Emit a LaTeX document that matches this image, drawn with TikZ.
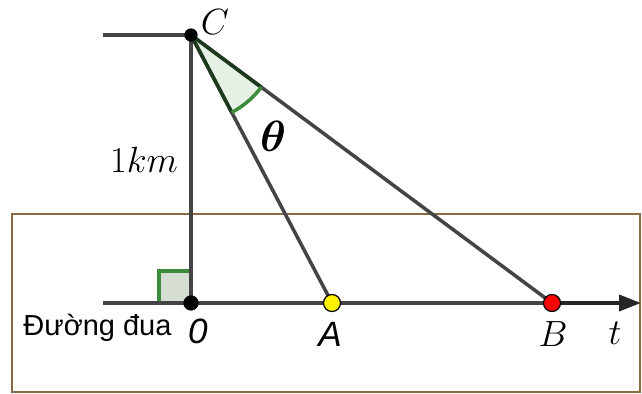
\documentclass[tikz,border=0pt]{standalone}
\usepackage{amsmath}
\usepackage{bm}
\usepackage{fontspec}
\newfontfamily\vnsans{Liberation Sans}
\usetikzlibrary{arrows.meta,positioning}

\definecolor{lineGrey}{HTML}{444444}
\definecolor{trackBrown}{HTML}{8B6A45}
\definecolor{angGreen}{HTML}{3C8C3C}
\definecolor{angDark}{HTML}{1E3A1E}
\definecolor{angFill}{HTML}{E4F1E4}
\definecolor{rightFill}{HTML}{D6DDD2}

\tikzset{
    seg/.style={lineGrey, line width=2pt},
    lbl/.style={font=\fontsize{21}{25}\selectfont, inner sep=1pt},
    dotpt/.style={circle, draw=black, line width=0.7pt, minimum size=0.34cm, inner sep=0pt}
}

\begin{document}
\begin{tikzpicture}
    \useasboundingbox (0,0) rectangle (12.84,7.88);

    % The race track box
    \draw[trackBrown, line width=1.5pt] (0.24,0.04) rectangle (12.8,3.6);

    % Define the points
    \coordinate (C) at (3.82,7.18);
    \coordinate (O) at (3.82,1.82);
    \coordinate (A) at (6.64,1.82);
    \coordinate (B) at (11.04,1.82);
    \coordinate (Cl) at (2.06,7.18);
    \coordinate (Ol) at (2.06,1.82);
    \coordinate (T) at (12.82,1.82);

    % Shaded angle theta at C
    \fill[angFill] (C) -- ++(-62.25:1.75) arc (-62.25:-36.59:1.75) -- cycle;

    % Right angle mark at O
    \filldraw[draw=angGreen, fill=rightFill, line width=1.8pt] (O) rectangle ++(-0.64,0.64);

    % The lines
    \draw[seg] (Cl) -- (C);
    \draw[seg] (C) -- (O);
    \draw[seg] (C) -- (A);
    \draw[seg] (C) -- (B);
    \draw[seg] (Ol) -- (B);
    \draw[line width=2.2pt, black!85, -{Triangle[length=0.44cm, width=0.32cm]}] (B) -- (T);

    % Dark edges and arc of the angle
    \draw[angDark, line width=2pt] (C) -- ++(-62.25:1.75);
    \draw[angDark, line width=2pt] (C) -- ++(-36.59:1.75);
    \draw[angGreen, line width=2pt] (C) ++(-62.25:1.75) arc (-62.25:-36.59:1.75);

    % Points
    \node[dotpt, fill=black, minimum size=0.24cm] (Cdot) at (C) {};
    \node[dotpt, fill=black, minimum size=0.28cm] (Odot) at (O) {};
    \node[dotpt, fill=yellow] (Adot) at (A) {};
    \node[dotpt, fill=red] (Bdot) at (B) {};

    % Labels
    \node[lbl] (labC) at (4.3,7.44) {$C$};
    \node[lbl] (labkm) at (2.88,4.68) {$1km$};
    \node[lbl, font=\fontsize{24}{28}\selectfont] (labth) at (5.46,5.16) {$\bm{\theta}$};
    \node[lbl, font=\fontsize{16.5}{19}\selectfont\vnsans] (labroad) at (1.95,1.32) {Đường đua};
    \node[lbl, font=\fontsize{20}{24}\selectfont\vnsans\itshape] (labO) at (3.96,1.26) {0};
    \node[lbl, font=\fontsize{20}{24}\selectfont\vnsans\itshape] (labA) at (6.6,1.2) {A};
    \node[lbl] (labB) at (11.06,1.2) {$B$};
    \node[lbl] (labt) at (12.3,1.22) {$t$};
\end{tikzpicture}
\end{document}
